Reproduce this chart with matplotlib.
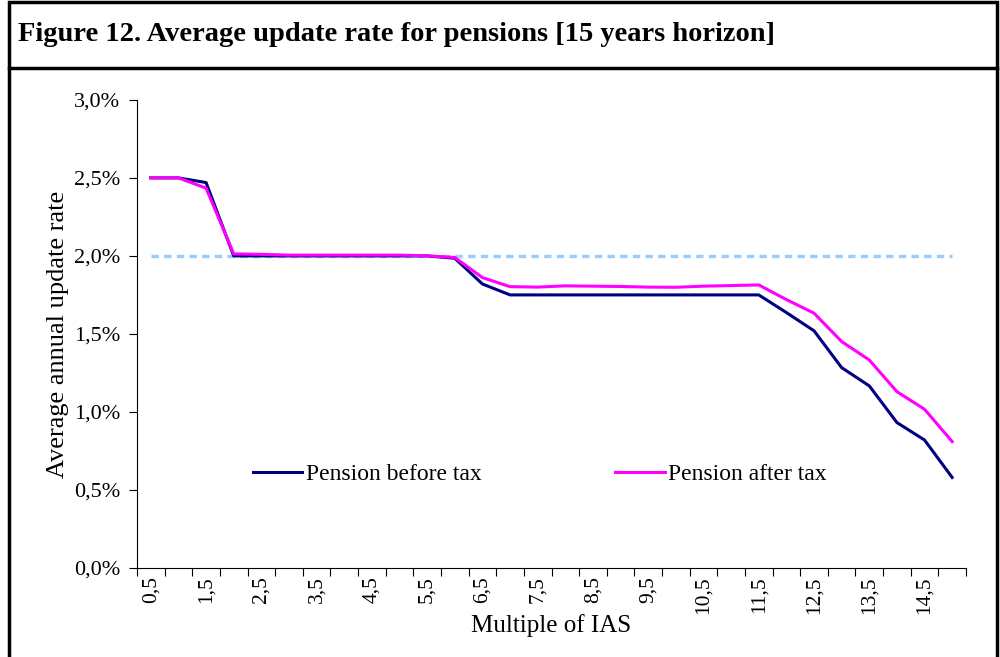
import numpy as np
import matplotlib.pyplot as plt
from matplotlib.lines import Line2D
from matplotlib.patches import Rectangle

plt.rcParams['font.family'] = ['Liberation Serif', 'DejaVu Serif']

# multiples of IAS (categories)
cats = ['0,5', '1', '1,5', '2', '2,5', '3', '3,5', '4', '4,5', '5',
        '5,5', '6', '6,5', '7', '7,5', '8', '8,5', '9', '9,5', '10',
        '10,5', '11', '11,5', '12', '12,5', '13', '13,5', '14', '14,5', '15']

# average annual update rate (%)
before_tax = [2.50, 2.50, 2.47, 2.00, 2.00, 2.00, 2.00, 2.00, 2.00, 2.00,
              2.00, 1.985, 1.82, 1.75, 1.75, 1.75, 1.75, 1.75, 1.75, 1.75,
              1.75, 1.75, 1.75, 1.637, 1.52, 1.284, 1.167, 0.932, 0.82, 0.58]
after_tax = [2.50, 2.50, 2.434, 2.013, 2.01, 2.005, 2.005, 2.005, 2.005, 2.005,
             2.00, 1.99, 1.861, 1.803, 1.80, 1.808, 1.806, 1.804, 1.80, 1.799,
             1.806, 1.81, 1.814, 1.72, 1.633, 1.451, 1.333, 1.13, 1.017, 0.81]
reference = [2.0] * 30

x = np.arange(len(cats))

fig = plt.figure(figsize=(10, 6.57), dpi=100)
ax = fig.add_axes([0.137, 0.1355, 0.829, 0.7125])

ax.plot(x, reference, color='#99CCFF', lw=2.4, ls=(0, (2.2, 1.6)))
l1, = ax.plot(x, before_tax, color='#000080', lw=2.2)
l2, = ax.plot(x, after_tax, color='#FF00FF', lw=2.2)

ax.set_xlim(-0.5, len(cats) - 0.5)
ax.set_ylim(0, 3.0)

yt = [0, 0.5, 1.0, 1.5, 2.0, 2.5, 3.0]
ax.set_yticks(yt)
ax.set_yticklabels([('%.1f%%' % v).replace('.', ',') for v in yt], fontsize=16)

ax.set_xticks(np.arange(-0.5, len(cats), 1.0))
ax.set_xticklabels([])
ax.set_xticks(x[::2], minor=True)
ax.set_xticklabels(cats[::2], minor=True, rotation=90, fontsize=15.5)
ax.tick_params(axis='x', which='minor', length=0, pad=6)
ax.tick_params(axis='x', which='major', length=6, direction='out')
ax.tick_params(axis='y', length=6, direction='out', pad=6)

for s in ['top', 'right']:
    ax.spines[s].set_visible(False)

ax.set_xlabel('Multiple of IAS', fontsize=18, labelpad=0)
ax.set_ylabel('Average annual update rate', fontsize=19, labelpad=4)

ax.legend([l1, l2], ['Pension before tax', 'Pension after tax'],
          loc='center', bbox_to_anchor=(0.486, 0.2), ncol=2, frameon=False,
          fontsize=17, handlelength=2.1, handletextpad=0.15, columnspacing=5.65)

# figure frame and title box
fig.add_artist(Rectangle((0.009, -0.01), 0.988, 1.007, transform=fig.transFigure,
                         fill=False, lw=2.5, color='black'))
fig.add_artist(Line2D([0.009, 0.997], [0.897, 0.897], transform=fig.transFigure,
                      lw=2.5, color='black'))
fig.text(0.018, 0.948, 'Figure 12. Average update rate for pensions [15 years horizon]',
         fontsize=20.5, fontweight='bold', va='center', ha='left')

fig.savefig('out.png', dpi=100)
